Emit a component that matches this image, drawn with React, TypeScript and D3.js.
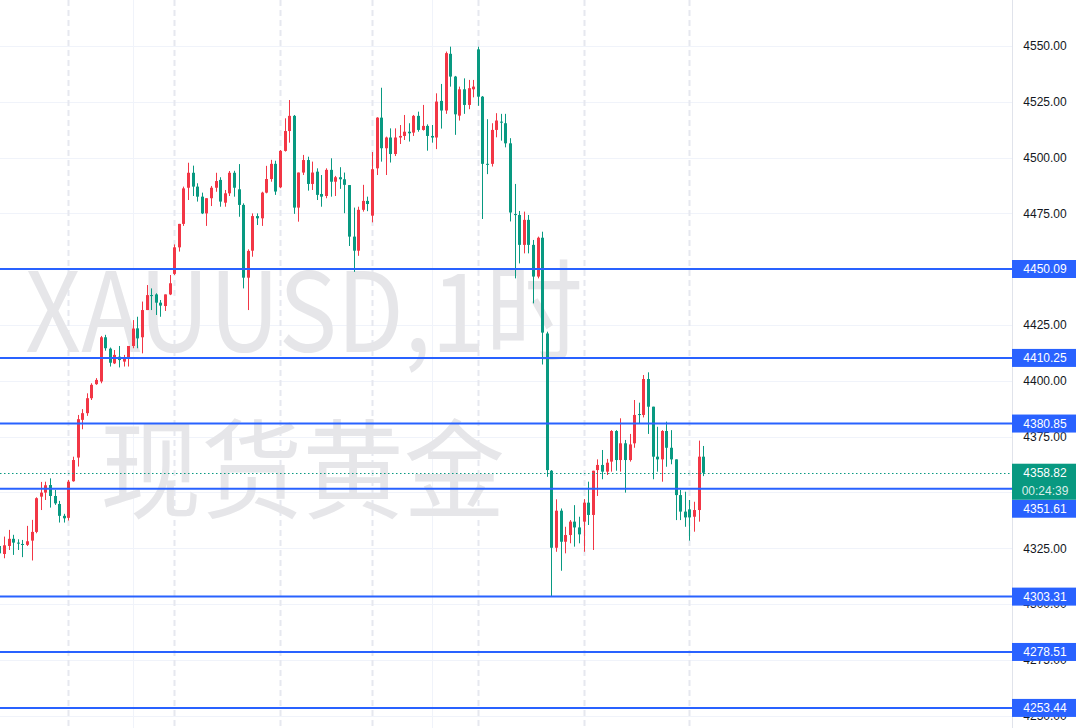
import React from 'react';
import * as d3 from 'd3';

// OHLC for 1H XAUUSD candles (red = up, green = down)
const opens = [
  4326.0, 4322.4, 4326.0, 4329.2, 4327.5, 4326.9, 4326.5, 4328.4, 4332.3, 4348.1,
  4349.9, 4353.3, 4348.4, 4344.8, 4339.5, 4338.6, 4355.0, 4365.6, 4382.5, 4385.5,
  4392.2, 4398.5, 4399.7, 4419.5, 4414.4, 4407.8, 4410.8, 4408.6, 4410.1, 4415.6,
  4423.5, 4419.5, 4431.7, 4438.4, 4438.7, 4435.0, 4433.5, 4438.7, 4447.9, 4459.8,
  4470.3, 4486.5, 4493.2, 4487.0, 4482.5, 4475.0, 4481.8, 4486.5, 4490.0, 4479.8,
  4484.0, 4493.2, 4485.8, 4478.8, 4446.2, 4458.3, 4473.8, 4472.8, 4484.3, 4490.4,
  4497.2, 4486.7, 4503.0, 4511.9, 4518.7, 4477.6, 4493.3, 4498.9, 4488.2, 4493.7,
  4483.7, 4482.8, 4494.5, 4489.2, 4491.2, 4490.3, 4487.7, 4464.6, 4458.3, 4476.6,
  4480.6, 4474.0, 4495.2, 4517.9, 4504.2, 4509.0, 4501.6, 4509.0, 4509.7, 4511.6,
  4511.2, 4518.7, 4512.4, 4514.2, 4509.7, 4509.0, 4525.4, 4521.1, 4546.5, 4536.3,
  4518.8, 4530.6, 4523.6, 4530.6, 4548.5, 4527.3, 4497.2, 4497.2, 4512.4, 4516.1,
  4515.4, 4506.4, 4474.7, 4474.3, 4460.9, 4472.1, 4460.9, 4446.7, 4464.1, 4421.2,
  4359.7, 4325.2, 4341.8, 4327.9, 4330.9, 4336.9, 4334.3, 4336.9, 4345.4, 4339.9,
  4360.0, 4362.3, 4359.3, 4363.8, 4377.5, 4364.5, 4372.0, 4364.5, 4372.0, 4385.1,
  4384.7, 4400.8, 4388.4, 4366.0, 4364.8, 4377.5, 4370.0, 4364.8, 4348.8, 4341.4,
  4342.4, 4339.1, 4342.1, 4366.0,
];
const highs = [
  4326.5, 4330.2, 4333.2, 4331.0, 4329.0, 4328.7, 4335.0, 4337.7, 4347.8, 4354.7,
  4354.8, 4356.3, 4351.1, 4346.2, 4340.4, 4355.6, 4366.0, 4384.7, 4387.3, 4394.4,
  4398.9, 4401.2, 4420.1, 4420.6, 4414.9, 4413.8, 4415.6, 4411.6, 4415.6, 4427.2,
  4428.7, 4435.5, 4442.9, 4441.4, 4439.2, 4436.2, 4438.7, 4447.4, 4461.1, 4470.3,
  4487.0, 4497.7, 4496.4, 4488.5, 4484.3, 4481.8, 4487.3, 4493.2, 4491.2, 4485.5,
  4494.0, 4494.1, 4497.1, 4479.5, 4458.9, 4475.0, 4475.0, 4484.7, 4496.3, 4499.0,
  4498.6, 4503.4, 4517.6, 4525.8, 4519.1, 4493.3, 4501.2, 4500.4, 4498.2, 4495.2,
  4492.2, 4495.2, 4499.7, 4491.8, 4495.7, 4493.3, 4487.7, 4477.6, 4478.0, 4487.8,
  4482.5, 4502.5, 4518.1, 4531.3, 4509.4, 4513.1, 4513.1, 4514.6, 4519.1, 4515.4,
  4519.1, 4520.6, 4523.6, 4514.9, 4514.6, 4528.8, 4533.0, 4547.5, 4549.7, 4536.6,
  4531.8, 4535.5, 4534.8, 4534.8, 4549.7, 4527.6, 4517.2, 4515.4, 4519.9, 4519.6,
  4519.6, 4508.7, 4488.2, 4476.1, 4475.8, 4474.3, 4463.1, 4464.6, 4466.8, 4422.0,
  4360.0, 4346.9, 4342.8, 4334.6, 4337.6, 4344.3, 4339.1, 4347.0, 4354.8, 4359.7,
  4364.8, 4369.0, 4365.0, 4377.9, 4377.9, 4383.2, 4373.5, 4376.2, 4391.4, 4390.2,
  4402.6, 4403.8, 4388.4, 4379.4, 4377.9, 4381.7, 4377.9, 4364.8, 4351.1, 4350.3,
  4346.6, 4345.8, 4373.2, 4370.8,
];
const lows = [
  4322.0, 4320.5, 4324.2, 4322.0, 4324.2, 4321.0, 4326.0, 4319.5, 4331.7, 4342.1,
  4346.6, 4343.2, 4344.4, 4336.5, 4336.5, 4337.4, 4354.8, 4361.6, 4378.3, 4384.3,
  4391.4, 4398.2, 4398.9, 4413.5, 4406.4, 4407.5, 4406.0, 4406.4, 4406.4, 4414.6,
  4414.6, 4412.3, 4431.7, 4431.7, 4429.5, 4428.7, 4431.3, 4438.4, 4447.4, 4457.9,
  4469.4, 4481.0, 4482.8, 4480.3, 4474.7, 4469.4, 4478.3, 4484.7, 4478.0, 4478.0,
  4482.8, 4482.5, 4473.5, 4441.4, 4431.7, 4455.6, 4469.8, 4469.4, 4484.0, 4489.2,
  4483.3, 4486.3, 4502.7, 4506.7, 4474.8, 4471.3, 4492.2, 4485.2, 4485.5, 4481.0,
  4478.0, 4481.8, 4482.5, 4482.8, 4486.0, 4475.1, 4460.4, 4448.8, 4456.0, 4475.8,
  4476.0, 4471.0, 4492.2, 4498.2, 4492.2, 4497.8, 4500.7, 4506.1, 4507.9, 4507.2,
  4509.7, 4511.6, 4512.1, 4503.1, 4506.7, 4503.8, 4513.0, 4519.6, 4531.8, 4510.2,
  4516.6, 4519.6, 4521.7, 4527.0, 4523.2, 4472.5, 4492.6, 4496.0, 4509.1, 4507.6,
  4504.6, 4471.4, 4445.9, 4452.6, 4457.1, 4457.1, 4434.7, 4445.9, 4407.3, 4357.0,
  4303.3, 4323.4, 4314.9, 4322.7, 4327.2, 4325.7, 4327.2, 4323.4, 4335.4, 4324.2,
  4348.4, 4355.9, 4357.8, 4359.3, 4359.7, 4359.3, 4349.9, 4363.8, 4370.0, 4380.9,
  4383.6, 4376.2, 4355.9, 4359.3, 4354.8, 4361.5, 4362.6, 4337.6, 4337.6, 4334.6,
  4328.4, 4332.4, 4336.9, 4357.3,
];
const closes = [
  4322.7, 4326.3, 4329.2, 4327.5, 4327.1, 4326.8, 4328.1, 4332.3, 4347.4, 4349.9,
  4353.2, 4348.4, 4345.1, 4339.5, 4338.4, 4354.8, 4364.5, 4382.8, 4385.5, 4392.2,
  4398.2, 4400.4, 4419.5, 4414.6, 4408.1, 4411.6, 4409.3, 4410.1, 4415.6, 4423.4,
  4419.0, 4431.7, 4438.4, 4438.1, 4435.0, 4433.7, 4438.7, 4443.7, 4459.8, 4470.3,
  4486.2, 4493.2, 4487.0, 4482.5, 4475.0, 4481.8, 4486.5, 4489.5, 4480.3, 4484.0,
  4493.2, 4486.5, 4478.8, 4446.2, 4458.2, 4473.8, 4472.8, 4484.3, 4490.4, 4497.2,
  4484.8, 4503.0, 4511.9, 4518.7, 4477.6, 4493.3, 4498.9, 4488.2, 4493.3, 4483.3,
  4482.5, 4494.5, 4489.2, 4491.2, 4490.3, 4487.8, 4464.6, 4458.3, 4476.6, 4480.6,
  4479.2, 4494.8, 4517.9, 4504.2, 4509.0, 4501.6, 4509.0, 4509.7, 4511.6, 4510.9,
  4518.7, 4512.4, 4514.2, 4509.7, 4509.0, 4525.1, 4521.1, 4546.8, 4536.3, 4519.4,
  4530.6, 4523.6, 4531.1, 4531.8, 4527.3, 4497.2, 4496.9, 4512.4, 4516.6, 4515.8,
  4506.4, 4475.4, 4474.4, 4460.9, 4472.1, 4460.9, 4446.7, 4464.1, 4421.6, 4360.0,
  4325.2, 4341.8, 4327.9, 4330.9, 4336.9, 4334.3, 4331.2, 4345.4, 4339.9, 4359.7,
  4362.3, 4359.3, 4363.3, 4377.5, 4364.5, 4372.0, 4364.5, 4371.5, 4384.7, 4384.7,
  4400.8, 4388.4, 4366.0, 4364.8, 4377.5, 4370.0, 4364.8, 4348.8, 4341.4, 4338.8,
  4338.8, 4342.1, 4366.0, 4358.8,
];

const priceLevels = [4450.09, 4410.25, 4380.85, 4351.61, 4303.31, 4278.51, 4253.44];
const lastPrice = 4358.82;
const countdown = '00:24:39';
const priceTicks = [4550, 4525, 4500, 4475, 4450, 4425, 4400, 4375, 4350, 4325, 4300, 4275, 4250];
const sessionStarts = [15, 38, 61, 81, 104, 127, 150];
const timeGridIdx = [29, 94];
const watermarkTop = 'XAUUSD,1时';
const watermarkBottom = '现货黄金';

const W = 1076;
const H = 728;
const AXIS_X = 1012;
const UP = '#f23645';
const DOWN = '#089981';
const BLUE = '#2962ff';
const FONT = '"Liberation Sans", Arial, sans-serif';

export default function App() {
  const n = opens.length;
  const x = d3.scaleLinear().domain([0, 153]).range([-0.6, 703.2]);
  const y = d3.scaleLinear().domain([4550, 4250]).range([46, 46 + 300 * 2.232]);

  const candles = d3.range(n).map((i) => {
    const o = opens[i], c = closes[i], h = highs[i], l = lows[i];
    const cx = Math.round(x(i));
    const up = c > o;
    const top = y(Math.max(o, c));
    const bot = y(Math.min(o, c));
    return (
      <g key={i} fill={up ? UP : DOWN}>
        <rect x={cx} y={y(h)} width={1} height={Math.max(1, y(l) - y(h))} />
        <rect x={cx - 1} y={top} width={3} height={Math.max(1, bot - top)} />
      </g>
    );
  });

  const yLast = y(lastPrice);
  const gTop = yLast - 9;
  const gBot = yLast + 27;
  const levelLabels = priceLevels.map((p) => {
    let t = y(p) - 9;
    if (t < gBot && t + 18 > gTop) {
      if (y(p) >= yLast) t = gBot;
      else t = gTop - 18;
    }
    return { p, t };
  });

  return (
    <svg
      width={W}
      height={H}
      style={{ position: 'absolute', left: 0, top: 0, background: '#ffffff' }}
    >
      <rect x={0} y={0} width={W} height={H} fill="#ffffff" />
      {priceTicks.map((t) => (
        <line key={t} x1={0} x2={AXIS_X} y1={Math.round(y(t)) + 0.5} y2={Math.round(y(t)) + 0.5} stroke="#f0f3fa" strokeWidth={1} />
      ))}
      {timeGridIdx.map((i) => (
        <line key={'tg' + i} x1={Math.round(x(i)) + 0.5} x2={Math.round(x(i)) + 0.5} y1={0} y2={H} stroke="#f0f3fa" strokeWidth={1} />
      ))}
      {sessionStarts.map((i) => (
        <line key={'sb' + i} x1={Math.round(x(i)) + 0.5} x2={Math.round(x(i)) + 0.5} y1={0} y2={H} stroke="#e6e8ef" strokeWidth={2} strokeDasharray="6,4" />
      ))}
      <text x={25} y={352} fontSize={110} fontFamily='"Noto Sans CJK SC", "Noto Sans", sans-serif' fill="#e6e6e9" textLength={558} lengthAdjust="spacingAndGlyphs">
        {watermarkTop}
      </text>
      <text x={100} y={510} fontSize={108} fontFamily='"Noto Sans CJK SC", sans-serif' fill="#e6e6e9" textLength={405} lengthAdjust="spacingAndGlyphs">
        {watermarkBottom}
      </text>
      {candles}
      {priceLevels.map((p) => (
        <line key={'pl' + p} x1={0} x2={AXIS_X} y1={y(p)} y2={y(p)} stroke={BLUE} strokeWidth={2} />
      ))}
      <line x1={0} x2={AXIS_X} y1={Math.round(yLast) + 0.5} y2={Math.round(yLast) + 0.5} stroke={DOWN} strokeWidth={1} strokeDasharray="1.5,2.5" />
      <rect x={AXIS_X} y={0} width={W - AXIS_X} height={H} fill="#ffffff" />
      <line x1={AXIS_X + 0.5} x2={AXIS_X + 0.5} y1={0} y2={H} stroke="#e0e3eb" strokeWidth={1} />
      {priceTicks.map((t) => (
        <text key={'tl' + t} x={1045} y={y(t)} dy="0.36em" textAnchor="middle" fontSize={12} fontFamily={FONT} fill="#131722">
          {d3.format('.2f')(t)}
        </text>
      ))}
      {levelLabels.map(({ p, t }) => (
        <g key={'lb' + p}>
          <rect x={AXIS_X} y={t} width={W - AXIS_X} height={18} fill={BLUE} />
          <text x={1045} y={t + 9} dy="0.36em" textAnchor="middle" fontSize={12} fontFamily={FONT} fill="#ffffff">
            {d3.format('.2f')(p)}
          </text>
        </g>
      ))}
      <rect x={AXIS_X} y={gTop} width={W - AXIS_X} height={36} fill={DOWN} />
      <text x={1045} y={yLast} dy="0.36em" textAnchor="middle" fontSize={12} fontFamily={FONT} fill="#ffffff">
        {d3.format('.2f')(lastPrice)}
      </text>
      <text x={1045} y={yLast + 18} dy="0.36em" textAnchor="middle" fontSize={12} fontFamily={FONT} fill="#ffffff" fillOpacity={0.85}>
        {countdown}
      </text>
    </svg>
  );
}
